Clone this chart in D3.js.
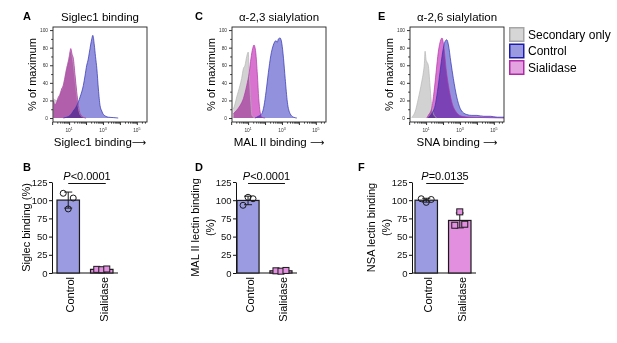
<!DOCTYPE html>
<html>
<head>
<meta charset="utf-8">
<script src="https://cdn.jsdelivr.net/npm/d3@7"></script>
<style>
  body { margin: 0; background: #fff; }
  svg { font-family: "Liberation Sans", Arial, Helvetica, sans-serif; }
</style>
</head>
<body>
<svg id="fig" width="617" height="343"></svg>
<script>
// histogram curves: [log10 intensity, % of maximum]
const sigSecondary = [[0.07,22],[0.27,20],[0.46,28],[0.66,38],[0.86,58],[0.96,66],[1.08,76],[1.25,62],[1.35,44],[1.45,26],[1.55,12],[1.65,4],[1.84,1],[2.0,0]];
const sigSialidase = [[0.07,20],[0.17,15],[0.27,18],[0.37,24],[0.46,26],[0.56,33],[0.66,37],[0.76,46],[0.86,56],[0.96,64],[1.02,70],[1.10,79],[1.18,72],[1.25,68],[1.35,49],[1.45,30],[1.55,14],[1.65,5],[1.84,1],[2.0,0]];
const sigControl = [[0.66,0],[0.86,1],[1.06,3],[1.25,8],[1.45,14],[1.65,24],[1.84,37],[1.94,48],[2.04,60],[2.12,66],[2.20,75],[2.34,90],[2.40,94],[2.49,83],[2.56,70],[2.64,56],[2.73,33],[2.83,14],[2.93,8],[3.03,4],[3.32,1],[3.62,0.5],[3.9,0]];

const malSecondary = [[0.13,10],[0.23,16],[0.33,24],[0.42,30],[0.52,37],[0.62,45],[0.72,56],[0.82,60],[0.92,70],[1.01,75],[1.07,49],[1.16,18],[1.23,3],[1.41,0]];
const malSialidase = [[0.13,5],[0.33,9],[0.52,14],[0.72,22],[0.92,37],[1.07,52],[1.17,68],[1.27,79],[1.35,83],[1.45,75],[1.55,49],[1.63,22],[1.71,7],[1.81,1],[2.0,0]];
const malControl = [[1.41,0],[1.61,2],[1.81,5],[1.94,14],[2.06,30],[2.20,52],[2.34,71],[2.49,83],[2.65,88],[2.72,86],[2.79,90],[2.89,91],[2.99,85],[3.09,68],[3.19,45],[3.32,18],[3.48,5],[3.68,1],[3.88,0]];

const snaSecondary = [[0.15,1],[0.35,7],[0.54,22],[0.74,41],[0.84,52],[0.90,62],[0.94,76],[1.00,66],[1.04,64],[1.13,60],[1.23,37],[1.33,14],[1.43,5],[1.63,0]];
const snaSialidase = [[1.04,0],[1.13,3],[1.33,11],[1.47,30],[1.59,52],[1.72,75],[1.87,89],[1.94,91],[2.06,79],[2.18,56],[2.32,37],[2.52,18],[2.81,6],[3.11,2],[3.5,1],[4.5,0.5],[5.6,0]];
const snaControl = [[1.13,0.5],[1.33,5],[1.53,14],[1.67,30],[1.82,52],[1.98,75],[2.12,87],[2.22,89],[2.32,83],[2.46,64],[2.61,45],[2.81,24],[3.01,11],[3.20,6],[3.40,4],[3.7,3],[4.0,3],[4.4,2],[4.8,2],[5.2,1],[5.6,1]];

// bar charts: replicate values (% of control)
const barCategories = ['Control', 'Sialidase'];
const siglecControl = [109.5, 88, 103];
const siglecSialidase = [5, 4.5, 5.5];
const malControl2 = [93, 104, 102];
const malSialidase2 = [3, 2.5, 3.5];
const nsaControl = [102, 97, 101];
const nsaSialidase = [65.6, 84, 67];

const histYTicks = [0, 20, 40, 60, 80, 100];
const barYTicks = [0, 25, 50, 75, 100, 125];
const legendLabels = ['Secondary only', 'Control', 'Sialidase'];

const colors = {
    secondary: { fill: '#d2d2d2', stroke: '#b4b4b4' },
    sialidase: { fill: '#d873d0', stroke: '#b036a8' },
    control: { fill: '#9191de', stroke: '#3030b0' }
};
const barFill = { Control: '#9b9be2', Sialidase: '#e28fe0' };

const svg = d3.select('#fig');

// ---------- histograms ----------
const histTop = 27, histH = 95, histW = 94;

function histPanel(o) {
    const g = svg.append('g').attr('transform', `translate(${o.left},${histTop})`);
    const x = d3.scaleLog().domain([Math.pow(10, 0.05), Math.pow(10, 5.6)]).range([0, histW]);
    const y = d3.scaleLinear().domain([-4.5, 103.5]).range([histH, 0]);

    const clipId = 'clip' + o.letter;
    g.append('clipPath').attr('id', clipId)
        .append('rect').attr('width', histW).attr('height', histH);

    const area = d3.area()
        .curve(d3.curveMonotoneX)
        .x(d => x(Math.pow(10, d[0])))
        .y0(y(0))
        .y1(d => y(d[1]));
    const line = d3.line()
        .curve(d3.curveMonotoneX)
        .x(d => x(Math.pow(10, d[0])))
        .y(d => y(d[1]));

    const plot = g.append('g').attr('clip-path', `url(#${clipId})`);
    o.curves.forEach(c => {
        plot.append('path')
            .datum(c.data)
            .attr('d', area)
            .attr('fill', colors[c.kind].fill)
            .style('mix-blend-mode', 'multiply');
    });
    o.curves.forEach(c => {
        plot.append('path')
            .datum(c.data)
            .attr('d', line)
            .attr('fill', 'none')
            .attr('stroke', colors[c.kind].stroke)
            .attr('stroke-width', 0.7);
    });

    // frame
    g.append('rect')
        .attr('width', histW).attr('height', histH)
        .attr('fill', 'none').attr('stroke', '#222').attr('stroke-width', 0.9);

    // y axis
    const ya = g.append('g')
        .call(d3.axisLeft(y).tickValues(histYTicks).tickSize(3).tickPadding(2))
        .call(s => s.select('.domain').remove());
    ya.selectAll('text').attr('font-size', 4.8).attr('fill', '#333').attr('font-family', null);
    ya.selectAll('line').attr('stroke', '#333');
    g.append('g')
        .call(d3.axisLeft(y).tickValues(d3.range(10, 100, 20)).tickSize(1.8).tickFormat(''))
        .call(s => s.select('.domain').remove())
        .selectAll('line').attr('stroke', '#333');

    // x axis
    const xa = g.append('g').attr('transform', `translate(0,${histH})`)
        .call(d3.axisBottom(x).tickValues([1, 10, 100, 1e3, 1e4, 1e5]).tickSize(3).tickFormat(''))
        .call(s => s.select('.domain').remove());
    xa.selectAll('line').attr('stroke', '#333');
    const minors = [];
    [1, 10, 100, 1e3, 1e4, 1e5].forEach(d => {
        for (let k = 2; k < 10; k++) if (d * k <= x.domain()[1]) minors.push(d * k);
    });
    g.append('g').attr('transform', `translate(0,${histH})`)
        .call(d3.axisBottom(x).tickValues(minors).tickSize(1.6).tickFormat(''))
        .call(s => s.select('.domain').remove())
        .selectAll('line').attr('stroke', '#333');

    [1, 3, 5].forEach(p => {
        const t = g.append('text')
            .attr('x', x(Math.pow(10, p)))
            .attr('y', histH + 10)
            .attr('text-anchor', 'middle')
            .attr('font-size', 4.8)
            .attr('fill', '#333');
        t.append('tspan').text('10');
        t.append('tspan').attr('dy', -2).attr('font-size', 3.6).text(p);
    });

    // titles
    g.append('text')
        .attr('x', histW / 2).attr('y', -6)
        .attr('text-anchor', 'middle').attr('font-size', 11.5)
        .text(o.title);
    const xt = g.append('text')
        .attr('x', histW / 2).attr('y', histH + 24)
        .attr('text-anchor', 'middle').attr('font-size', 11.5);
    xt.append('tspan').text(o.xlab);
    xt.append('tspan').attr('font-family', '"DejaVu Sans"').attr('font-size', 10).text('⟶');
    g.append('text')
        .attr('transform', `translate(-17,${histH / 2}) rotate(-90)`)
        .attr('text-anchor', 'middle').attr('font-size', 11)
        .text('% of maximum');
    svg.append('text')
        .attr('x', o.letterX).attr('y', 19.5)
        .attr('font-size', 11).attr('font-weight', 'bold')
        .text(o.letter);
}

histPanel({
    letter: 'A', letterX: 23, left: 53, title: 'Siglec1 binding', xlab: 'Siglec1 binding',
    curves: [
        { kind: 'secondary', data: sigSecondary },
        { kind: 'sialidase', data: sigSialidase },
        { kind: 'control', data: sigControl }
    ]
});
histPanel({
    letter: 'C', letterX: 195, left: 232, title: 'α-2,3 sialylation', xlab: 'MAL II binding ',
    curves: [
        { kind: 'secondary', data: malSecondary },
        { kind: 'sialidase', data: malSialidase },
        { kind: 'control', data: malControl }
    ]
});
histPanel({
    letter: 'E', letterX: 378, left: 410, title: 'α-2,6 sialylation', xlab: 'SNA binding ',
    curves: [
        { kind: 'secondary', data: snaSecondary },
        { kind: 'sialidase', data: snaSialidase },
        { kind: 'control', data: snaControl }
    ]
});

// legend
const legend = svg.append('g').attr('transform', 'translate(509,27)');
const legKinds = ['secondary', 'control', 'sialidase'];
const legFill = { secondary: '#d6d6d6', control: '#9a9ae0', sialidase: '#e3a2e0' };
const legStroke = { secondary: '#a6a6a6', control: '#1c1ca8', sialidase: '#b02aa8' };
legendLabels.forEach((lab, i) => {
    const k = legKinds[i];
    legend.append('rect')
        .attr('x', 0.75).attr('y', i * 16.5 + 0.75)
        .attr('width', 14).attr('height', 13.5)
        .attr('fill', legFill[k]).attr('stroke', legStroke[k]).attr('stroke-width', 1.5);
    legend.append('text')
        .attr('x', 19).attr('y', i * 16.5 + 11.5)
        .attr('font-size', 12)
        .text(lab);
});

// ---------- bar charts ----------
const barY = d3.scaleLinear().domain([0, 125]).range([273, 182]);
const jitter = [-5, 0, 5];

function barPanel(o) {
    const g = svg.append('g');
    const x = d3.scaleBand().domain(barCategories).range(o.band).paddingInner(0.33).paddingOuter(0);
    const groups = { Control: o.control, Sialidase: o.sialidase };

    const ya = g.append('g').attr('transform', `translate(${o.axisX},0)`)
        .call(d3.axisLeft(barY).tickValues(barYTicks).tickSize(3).tickSizeOuter(0).tickPadding(1.5));
    ya.selectAll('text').attr('font-size', 9.5).attr('fill', '#111').attr('font-family', null);
    ya.selectAll('line,path').attr('stroke', '#111');

    g.append('line')
        .attr('x1', o.axisX).attr('x2', o.band[1] + 5)
        .attr('y1', barY(0)).attr('y2', barY(0))
        .attr('stroke', '#111');

    barCategories.forEach(cat => {
        const vals = groups[cat];
        const m = d3.mean(vals), sd = d3.deviation(vals);
        const cx = x(cat) + x.bandwidth() / 2;
        g.append('rect')
            .attr('x', x(cat)).attr('y', barY(m))
            .attr('width', x.bandwidth()).attr('height', barY(0) - barY(m))
            .attr('fill', barFill[cat]).attr('stroke', '#1a1a1a').attr('stroke-width', 1.2);
        // error bar
        g.append('line')
            .attr('x1', cx).attr('x2', cx)
            .attr('y1', barY(m - sd)).attr('y2', barY(m + sd))
            .attr('stroke', '#1a1a1a');
        [m - sd, m + sd].forEach(v => {
            g.append('line')
                .attr('x1', cx - 4).attr('x2', cx + 4)
                .attr('y1', barY(v)).attr('y2', barY(v))
                .attr('stroke', '#1a1a1a');
        });
        vals.forEach((v, i) => {
            if (cat === 'Control') {
                g.append('circle')
                    .attr('cx', cx + jitter[i]).attr('cy', barY(v)).attr('r', 3)
                    .attr('fill', 'none').attr('stroke', '#1a1a1a').attr('stroke-width', 1);
            } else {
                g.append('rect')
                    .attr('x', cx + jitter[i] - 3).attr('y', barY(v) - 3)
                    .attr('width', 6).attr('height', 6)
                    .attr('fill', barFill.Sialidase).attr('stroke', '#1a1a1a').attr('stroke-width', 1);
            }
        });
        g.append('text')
            .attr('transform', `translate(${cx + 6},277) rotate(-90)`)
            .attr('text-anchor', 'end').attr('font-size', 11)
            .text(cat);
    });

    // significance
    const c1 = x('Control') + x.bandwidth() / 2;
    const c2 = x('Sialidase') + x.bandwidth() / 2 + 4;
    g.append('line')
        .attr('x1', c1).attr('x2', c2).attr('y1', 183.5).attr('y2', 183.5)
        .attr('stroke', '#111');
    const pt = g.append('text')
        .attr('x', (c1 + c2) / 2).attr('y', 180)
        .attr('text-anchor', 'middle').attr('font-size', 11);
    pt.append('tspan').attr('font-style', 'italic').text('P');
    pt.append('tspan').text(o.p);

    // y label
    const n = o.ylab.length;
    o.ylab.forEach((t, i) => {
        g.append('text')
            .attr('transform', `translate(${o.axisX - 22 - (n - 1 - i) * 15},227.5) rotate(-90)`)
            .attr('text-anchor', 'middle').attr('font-size', 11)
            .text(t);
    });

    svg.append('text')
        .attr('x', o.letterX).attr('y', 171)
        .attr('font-size', 11).attr('font-weight', 'bold')
        .text(o.letter);
}

barPanel({ letter: 'B', letterX: 23, axisX: 52, band: [57, 113], ylab: ['Siglec binding (%)'], p: '<0.0001', control: siglecControl, sialidase: siglecSialidase });
barPanel({ letter: 'D', letterX: 195, axisX: 236, band: [237, 292], ylab: ['MAL II lectin binding', '(%)'], p: '<0.0001', control: malControl2, sialidase: malSialidase2 });
barPanel({ letter: 'F', letterX: 358, axisX: 412, band: [415, 471], ylab: ['NSA lectin binding', '(%)'], p: '=0.0135', control: nsaControl, sialidase: nsaSialidase });
</script>
</body>
</html>
